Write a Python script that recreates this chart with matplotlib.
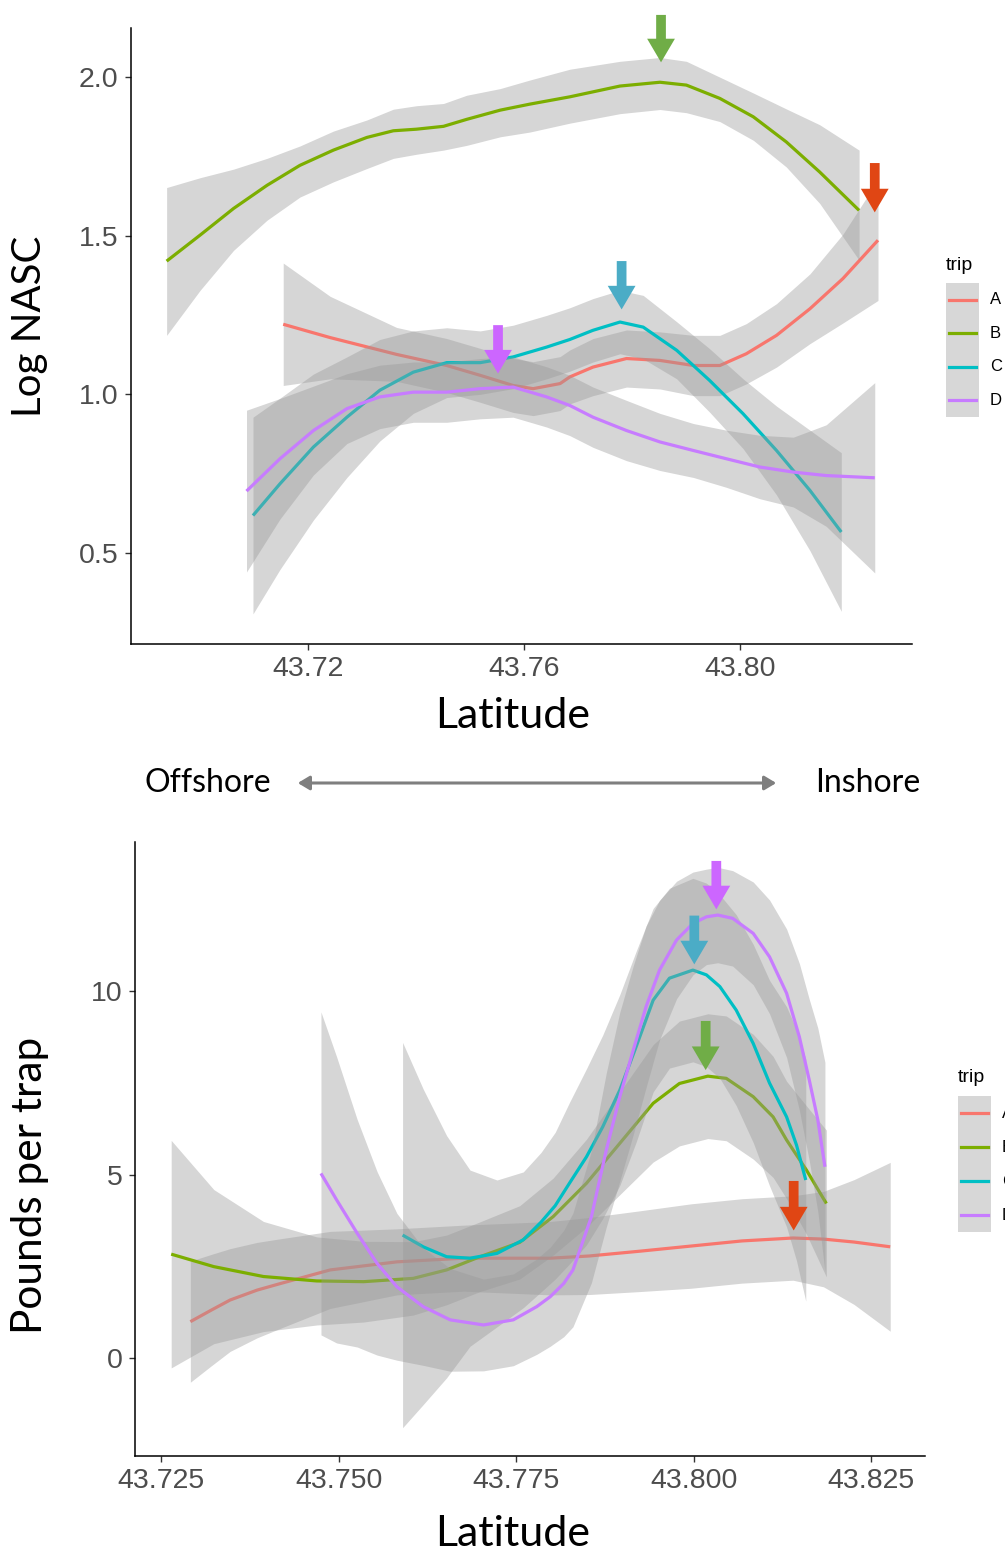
import matplotlib
matplotlib.use("Agg")
import matplotlib.pyplot as plt
from matplotlib.patches import FancyArrowPatch, Rectangle
from matplotlib.lines import Line2D

trips = ["A", "B", "C", "D"]
trip_colors = ["#F8766D", "#7CAE00", "#00BFC4", "#C77CFF"]
arrow_colors = {"A": "#E04614", "B": "#70AD47", "C": "#4BACC6", "D": "#CC66FF"}

# ---- top panel: Log NASC vs latitude (smooth fit + band) ----
top_lat_A = [43.7154, 43.7241, 43.7364, 43.7457, 43.7519, 43.7580, 43.7617, 43.7667, 43.7685, 43.7728,
             43.7790, 43.7852, 43.7914, 43.7963, 43.8012, 43.8068, 43.8130, 43.8191, 43.8256]
top_fit_A = [1.221, 1.179, 1.126, 1.091, 1.060, 1.028, 1.018, 1.034, 1.055, 1.086,
             1.113, 1.107, 1.091, 1.091, 1.128, 1.186, 1.270, 1.365, 1.486]
top_lo_A = [1.028, 1.049, 1.041, 1.006, 0.975, 0.943, 0.933, 0.949, 0.970, 0.996,
            1.023, 1.017, 0.996, 0.996, 1.033, 1.086, 1.160, 1.225, 1.296]
top_hi_A = [1.414, 1.309, 1.211, 1.176, 1.145, 1.113, 1.103, 1.119, 1.140, 1.176,
            1.203, 1.197, 1.186, 1.186, 1.223, 1.286, 1.380, 1.505, 1.676]

top_lat_B = [43.6938, 43.7000, 43.7062, 43.7124, 43.7185, 43.7247, 43.7309, 43.7358, 43.7401, 43.7451, 43.7494,
             43.7556, 43.7611, 43.7685, 43.7778, 43.7852, 43.7901, 43.7963, 43.8025, 43.8086, 43.8148, 43.8221]
top_fit_B = [1.420, 1.502, 1.586, 1.659, 1.722, 1.770, 1.810, 1.831, 1.836, 1.845, 1.867,
             1.896, 1.915, 1.938, 1.972, 1.984, 1.975, 1.933, 1.875, 1.796, 1.701, 1.580]
top_lo_B = [1.186, 1.328, 1.454, 1.549, 1.622, 1.670, 1.712, 1.744, 1.757, 1.770, 1.785,
            1.812, 1.827, 1.855, 1.885, 1.898, 1.888, 1.860, 1.801, 1.717, 1.602, 1.423]
top_hi_B = [1.652, 1.683, 1.710, 1.744, 1.783, 1.830, 1.865, 1.899, 1.910, 1.917, 1.943,
            1.964, 1.991, 2.025, 2.050, 2.062, 2.050, 2.000, 1.950, 1.900, 1.850, 1.770]

top_lat_C = [43.7098, 43.7148, 43.7210, 43.7272, 43.7333, 43.7395, 43.7457, 43.7519, 43.7580, 43.7642,
             43.7685, 43.7728, 43.7778, 43.7821, 43.7883, 43.7944, 43.8006, 43.8068, 43.8130, 43.8188]
top_fit_C = [0.618, 0.718, 0.834, 0.928, 1.013, 1.070, 1.100, 1.100, 1.118, 1.149,
             1.173, 1.202, 1.228, 1.212, 1.139, 1.044, 0.939, 0.823, 0.697, 0.566]
top_lo_C = [0.308, 0.448, 0.604, 0.738, 0.853, 0.940, 0.990, 1.000, 1.018, 1.049,
            1.073, 1.102, 1.128, 1.112, 1.049, 0.944, 0.829, 0.683, 0.507, 0.316]
top_hi_C = [0.928, 0.988, 1.064, 1.118, 1.173, 1.200, 1.210, 1.200, 1.218, 1.249,
            1.273, 1.302, 1.328, 1.312, 1.229, 1.144, 1.049, 0.963, 0.887, 0.816]

top_lat_D = [43.7086, 43.7148, 43.7210, 43.7272, 43.7333, 43.7395, 43.7457, 43.7519, 43.7580, 43.7642,
             43.7685, 43.7728, 43.7790, 43.7852, 43.7914, 43.7975, 43.8037, 43.8099, 43.8160, 43.8250]
top_fit_D = [0.695, 0.797, 0.886, 0.955, 0.992, 1.007, 1.007, 1.018, 1.023, 0.992,
             0.965, 0.928, 0.886, 0.850, 0.823, 0.797, 0.771, 0.755, 0.744, 0.737]
top_lo_D = [0.440, 0.607, 0.746, 0.845, 0.892, 0.912, 0.912, 0.923, 0.928, 0.897,
            0.870, 0.833, 0.791, 0.760, 0.738, 0.707, 0.671, 0.645, 0.584, 0.437]
top_hi_D = [0.950, 0.987, 1.026, 1.065, 1.092, 1.102, 1.102, 1.113, 1.118, 1.087,
            1.060, 1.023, 0.981, 0.940, 0.908, 0.887, 0.871, 0.865, 0.904, 1.037]

# peak markers (trip, latitude, tip value, tail value)
top_arrow_trip = ["B", "A", "C", "D"]
top_arrow_lat = [43.7854, 43.8250, 43.7781, 43.7552]
top_arrow_tip = [2.038, 1.565, 1.259, 1.057]
top_arrow_tail = [2.205, 1.738, 1.429, 1.227]

# ---- bottom panel: pounds per trap vs latitude ----
bot_lat_A = [43.7291, 43.7320, 43.7347, 43.7385, 43.7418, 43.7488, 43.7582, 43.7676, 43.7798,
             43.7853, 43.7924, 43.7996, 43.8068, 43.8140, 43.8183, 43.8226, 43.8277]
bot_fit_A = [0.99, 1.30, 1.58, 1.85, 2.03, 2.40, 2.62, 2.72, 2.72,
             2.78, 2.91, 3.05, 3.19, 3.27, 3.24, 3.16, 3.03]
bot_lo_A = [-0.66, -0.22, 0.18, 0.55, 0.81, 1.35, 1.72, 1.82, 1.72,
            1.73, 1.81, 1.90, 2.04, 2.12, 1.94, 1.46, 0.73]
bot_hi_A = [2.64, 2.82, 2.98, 3.15, 3.25, 3.45, 3.52, 3.62, 3.72,
            3.83, 4.01, 4.20, 4.34, 4.42, 4.54, 4.86, 5.33]

bot_lat_B = [43.7264, 43.7324, 43.7394, 43.7469, 43.7535, 43.7605, 43.7652, 43.7699, 43.7755, 43.7802, 43.7849,
             43.7896, 43.7943, 43.7980, 43.8020, 43.8046, 43.8084, 43.8112, 43.8131, 43.8159, 43.8187]
bot_fit_B = [2.83, 2.49, 2.22, 2.10, 2.08, 2.17, 2.40, 2.76, 3.15, 3.85, 4.76,
             5.85, 6.94, 7.48, 7.68, 7.62, 7.12, 6.57, 5.94, 5.12, 4.21]
bot_lo_B = [-0.27, 0.39, 0.72, 0.90, 0.98, 1.17, 1.45, 1.81, 2.15, 2.80, 3.56,
            4.45, 5.34, 5.78, 5.98, 5.92, 5.42, 4.92, 4.34, 3.37, 2.21]
bot_hi_B = [5.93, 4.59, 3.72, 3.30, 3.18, 3.17, 3.35, 3.71, 4.15, 4.90, 5.96,
            7.25, 8.54, 9.18, 9.38, 9.32, 8.82, 8.22, 7.54, 6.87, 6.21]

bot_lat_C = [43.7590, 43.7619, 43.7652, 43.7685, 43.7723, 43.7760, 43.7785, 43.7805, 43.7825, 43.7849, 43.7872, 43.7896,
             43.7919, 43.7943, 43.7966, 43.7999, 43.8018, 43.8037, 43.8060, 43.8084, 43.8107, 43.8131, 43.8145, 43.8158]
bot_fit_C = [3.35, 3.03, 2.76, 2.72, 2.85, 3.22, 3.70, 4.15, 4.76, 5.48, 6.30, 7.30,
             8.48, 9.75, 10.35, 10.57, 10.44, 10.12, 9.48, 8.57, 7.49, 6.57, 5.80, 4.85]
bot_lo_C = [-1.90, -1.27, -0.54, 0.32, 0.85, 1.37, 1.80, 2.15, 2.56, 3.08, 3.80, 4.70,
            5.88, 7.25, 7.90, 8.07, 7.94, 7.62, 6.88, 5.87, 4.69, 3.57, 2.65, 1.55]
bot_hi_C = [8.60, 7.33, 6.06, 5.12, 4.85, 5.07, 5.60, 6.15, 6.96, 7.88, 8.80, 9.90,
            11.08, 12.25, 12.80, 13.07, 12.94, 12.62, 12.08, 11.27, 10.29, 9.57, 8.95, 8.15]

bot_lat_D = [43.7475, 43.7497, 43.7526, 43.7554, 43.7582, 43.7619, 43.7657, 43.7704, 43.7746, 43.7779, 43.7798,
             43.7817, 43.7830, 43.7856, 43.7877, 43.7896, 43.7915, 43.7933, 43.7952, 43.7976, 43.7999, 43.8018,
             43.8034, 43.8055, 43.8084, 43.8107, 43.8131, 43.8149, 43.8163, 43.8175, 43.8185]
bot_fit_D = [5.03, 4.31, 3.40, 2.58, 1.94, 1.40, 1.04, 0.90, 1.04, 1.40, 1.67,
             2.03, 2.40, 3.85, 5.67, 7.12, 8.39, 9.57, 10.57, 11.39, 11.84, 12.02,
             12.07, 11.98, 11.57, 10.93, 9.94, 8.75, 7.57, 6.49, 5.21]
bot_lo_D = [0.63, 0.41, 0.30, 0.08, -0.06, -0.20, -0.36, -0.35, -0.21, 0.10, 0.32,
            0.58, 0.85, 2.05, 3.57, 4.82, 6.09, 7.37, 8.67, 9.79, 10.44, 10.72,
            10.77, 10.68, 10.17, 9.38, 8.19, 6.75, 5.37, 3.99, 2.36]
bot_hi_D = [9.43, 8.21, 6.50, 5.08, 3.94, 3.00, 2.44, 2.15, 2.29, 2.70, 3.02,
            3.48, 3.95, 5.65, 7.77, 9.42, 10.69, 11.77, 12.47, 12.99, 13.24, 13.32,
            13.37, 13.28, 12.97, 12.48, 11.69, 10.75, 9.77, 8.99, 8.06]

bot_arrow_trip = ["D", "C", "B", "A"]
bot_arrow_lat = [43.8032, 43.8001, 43.8017, 43.8141]
bot_arrow_tip = [12.15, 10.65, 7.77, 3.40]
bot_arrow_tail = [13.62, 12.13, 9.26, 4.90]

top_xticks = [43.72, 43.76, 43.80]
top_yticks = [0.5, 1.0, 1.5, 2.0]
bot_xticks = [43.725, 43.750, 43.775, 43.800, 43.825]
bot_yticks = [0, 5, 10]

W, H = 1005, 1557
fig = plt.figure(figsize=(W / 100, H / 100), dpi=100)

title_font = "Lato"
tick_font = "Liberation Sans"


def px_axes(left, top, right, bottom):
    return fig.add_axes([left / W, 1 - bottom / H, (right - left) / W, (bottom - top) / H])


def style_axes(ax):
    for s in ["top", "right"]:
        ax.spines[s].set_visible(False)
    for s in ["left", "bottom"]:
        ax.spines[s].set_linewidth(1.1)
        ax.spines[s].set_color("black")
    ax.tick_params(direction="out", length=4, width=1.0, color="#333333",
                   labelcolor="#4D4D4D", labelsize=20.5, pad=5)
    for lab in ax.get_xticklabels() + ax.get_yticklabels():
        lab.set_family(tick_font)


def draw_smooths(ax, lats, fits, los, his):
    # ribbon then line for each trip, so later ribbons veil earlier lines
    z = 2
    for i, t in enumerate(trips):
        ax.fill_between(lats[i], los[i], his[i], color="#999999", alpha=0.4,
                        linewidth=0, zorder=z)
        ax.plot(lats[i], fits[i], color=trip_colors[i], lw=2.3,
                solid_capstyle="butt", solid_joinstyle="round", zorder=z + 1)
        z += 2


def draw_arrows(ax, a_trip, a_lat, a_tip, a_tail):
    for t, x, y1, y0 in zip(a_trip, a_lat, a_tip, a_tail):
        arr = FancyArrowPatch((x, y0), (x, y1),
                              arrowstyle="simple,head_length=17,head_width=20,tail_width=7",
                              mutation_scale=1, color=arrow_colors[t], lw=0,
                              zorder=20, clip_on=False)
        ax.add_patch(arr)


def draw_legend(x0, y_title, y_box, row_gap):
    fig.text(x0 / W, 1 - y_title / H, "trip", fontsize=14, family=tick_font,
             va="center", ha="left", color="black")
    box_w = 33
    box_h = row_gap * len(trips)
    fig.add_artist(Rectangle((x0 / W, 1 - (y_box + box_h) / H), box_w / W, box_h / H,
                             transform=fig.transFigure, facecolor="#D7D7D7",
                             edgecolor="none"))
    for i, t in enumerate(trips):
        yc = y_box + row_gap * (i + 0.5)
        fig.add_artist(Line2D([(x0 + 3) / W, (x0 + box_w - 3) / W], [1 - yc / H, 1 - yc / H],
                              transform=fig.transFigure, color=trip_colors[i], lw=2.3))
        fig.text((x0 + box_w + 11) / W, 1 - yc / H, t, fontsize=12, family=tick_font,
                 va="center", ha="left", color="black")


# ---------------- top panel ----------------
ax1 = px_axes(131, 28, 912, 644)
draw_smooths(ax1,
             [top_lat_A, top_lat_B, top_lat_C, top_lat_D],
             [top_fit_A, top_fit_B, top_fit_C, top_fit_D],
             [top_lo_A, top_lo_B, top_lo_C, top_lo_D],
             [top_hi_A, top_hi_B, top_hi_C, top_hi_D])
ax1.set_xlim(43.6872, 43.8319)
ax1.set_ylim(0.213, 2.155)
ax1.set_xticks(top_xticks)
ax1.set_xticklabels([f"{v:.2f}" for v in top_xticks])
ax1.set_yticks(top_yticks)
ax1.set_yticklabels([f"{v:.1f}" for v in top_yticks])
style_axes(ax1)
draw_arrows(ax1, top_arrow_trip, top_arrow_lat, top_arrow_tip, top_arrow_tail)

fig.text(513 / W, 1 - 716 / H, "Latitude", fontsize=31, family=title_font,
         ha="center", va="center")
fig.text(30 / W, 1 - 326 / H, "Log NASC", fontsize=29, family=title_font,
         ha="center", va="center", rotation=90)
draw_legend(946, 265, 283, 33.5)

# ---------------- offshore / inshore ----------------
fig.text(208 / W, 1 - 783 / H, "Offshore", fontsize=23, family=title_font,
         ha="center", va="center")
fig.text(868 / W, 1 - 783 / H, "Inshore", fontsize=23, family=title_font,
         ha="center", va="center")
fig.add_artist(FancyArrowPatch((295 / W, 1 - 783 / H), (779 / W, 1 - 783 / H),
                               transform=fig.transFigure,
                               arrowstyle="<|-|>,head_length=5,head_width=3",
                               mutation_scale=1.4, color="#7F7F7F", lw=2.2))

# ---------------- bottom panel ----------------
ax2 = px_axes(135, 842, 925, 1456)
draw_smooths(ax2,
             [bot_lat_A, bot_lat_B, bot_lat_C, bot_lat_D],
             [bot_fit_A, bot_fit_B, bot_fit_C, bot_fit_D],
             [bot_lo_A, bot_lo_B, bot_lo_C, bot_lo_D],
             [bot_hi_A, bot_hi_B, bot_hi_C, bot_hi_D])
ax2.set_xlim(43.7213, 43.8326)
ax2.set_ylim(-2.67, 14.06)
ax2.set_xticks(bot_xticks)
ax2.set_xticklabels([f"{v:.3f}" for v in bot_xticks])
ax2.set_yticks(bot_yticks)
ax2.set_yticklabels([str(v) for v in bot_yticks])
style_axes(ax2)
draw_arrows(ax2, bot_arrow_trip, bot_arrow_lat, bot_arrow_tip, bot_arrow_tail)

fig.text(513 / W, 1 - 1534 / H, "Latitude", fontsize=31, family=title_font,
         ha="center", va="center")
fig.text(30 / W, 1 - 1185 / H, "Pounds per trap", fontsize=30.5, family=title_font,
         ha="center", va="center", rotation=90)
draw_legend(958, 1077, 1096, 34)

fig.savefig("out.png", dpi=100)
